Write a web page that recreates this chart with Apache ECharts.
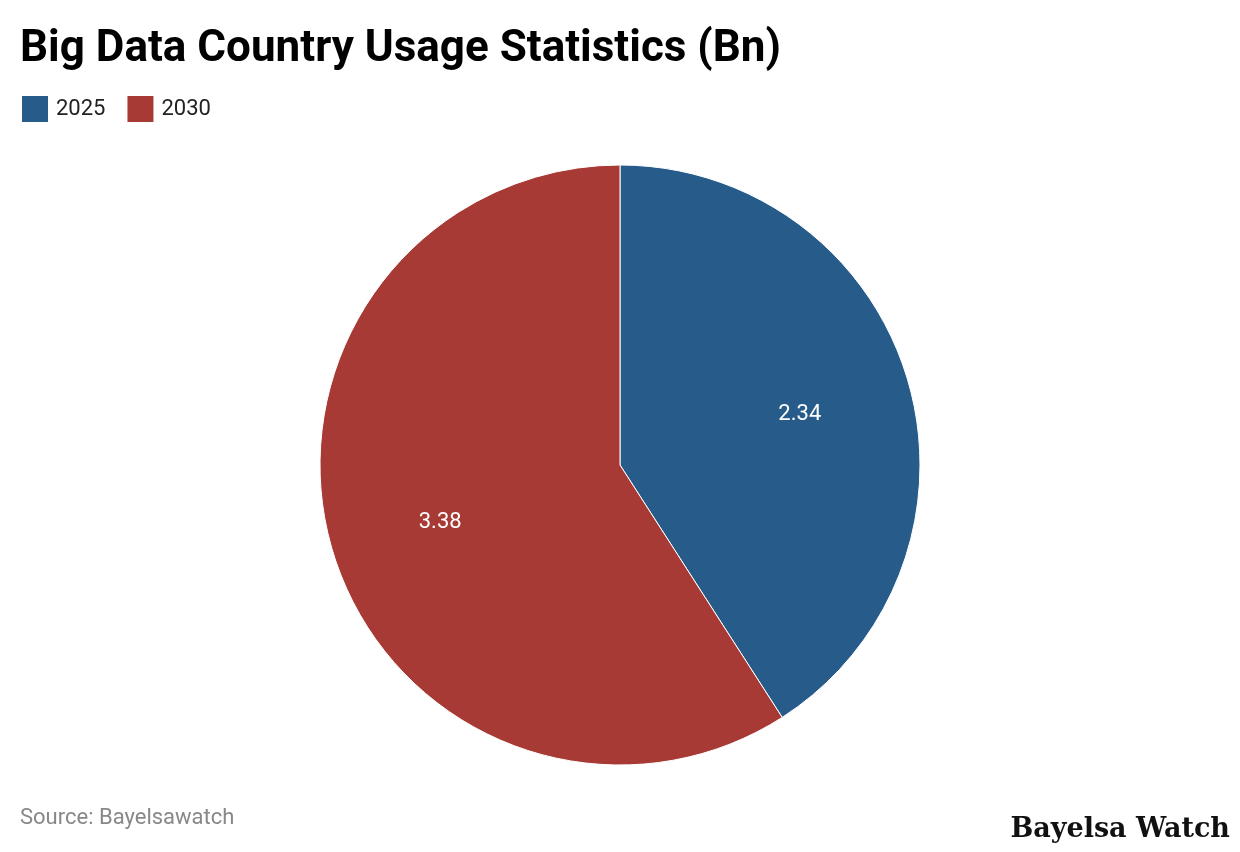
<!DOCTYPE html>
<html>
<head>
<meta charset="utf-8">
<script src="https://cdn.jsdelivr.net/npm/echarts@6/dist/echarts.min.js"></script>
<style>
  html, body { margin: 0; padding: 0; background: #fff; }
  #chart { width: 1240px; height: 852px; }
</style>
</head>
<body>
<div id="chart"></div>
<script>
var YEARS = ['2025', '2030'];
var VALUES = [2.34, 3.38];
var COLORS = ['#265b8a', '#a83a35'];
var LABEL_OFFSETS = [[33, -7], [-33, 14]];

var chart = echarts.init(document.getElementById('chart'), null, { renderer: 'canvas' });

chart.setOption({
  animation: false,
  title: {
    text: 'Big Data Country Usage Statistics (Bn)',
    left: 15, top: 23,
    textStyle: { fontFamily: 'Roboto', fontWeight: 'bold', fontSize: 44, color: '#000' }
  },
  legend: {
    left: 20, top: 94, padding: 0,
    itemWidth: 28, itemHeight: 28, itemGap: 20,
    icon: 'rect',
    textStyle: { fontFamily: 'Roboto', fontSize: 22, color: '#222', padding: [0, 0, 0, 2] },
    data: YEARS
  },
  graphic: [
    { type: 'text', left: 20, top: 807,
      style: { text: 'Source: Bayelsawatch', font: '22px Roboto', fill: '#888' } },
    { type: 'text', right: 10, top: 816,
      style: { text: 'Bayelsa Watch', font: 'bold 27px "DejaVu Serif", serif', fill: '#111' } }
  ],
  series: [{
    type: 'pie',
    center: [620, 465],
    radius: [0, 300],
    startAngle: 90,
    clockwise: true,
    itemStyle: { borderColor: '#fff', borderWidth: 1 },
    label: {
      position: 'inside',
      formatter: function (p) { return p.value.toFixed(2); },
      fontFamily: 'Roboto', fontSize: 22, color: '#fff'
    },
    labelLine: { show: false },
    data: YEARS.map(function (y, i) {
      return { name: y, value: VALUES[i], itemStyle: { color: COLORS[i] },
        label: { offset: LABEL_OFFSETS[i] } };
    })
  }]
});
</script>
</body>
</html>
